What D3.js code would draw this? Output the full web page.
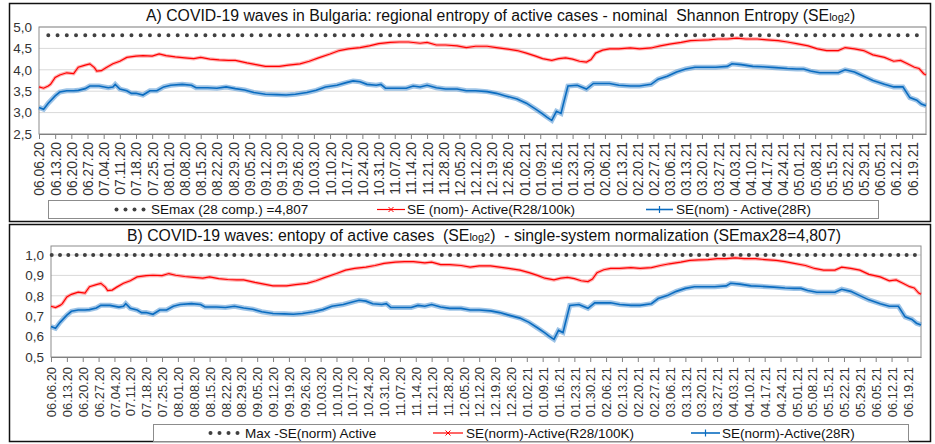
<!DOCTYPE html>
<html>
<head>
<meta charset="utf-8">
<script src="https://cdn.jsdelivr.net/npm/d3@7"></script>
<style>
  body { margin: 0; background: #fff; }
  svg { font-family: "Liberation Sans", Arial, sans-serif; }
  .title { font-size: 15.8px; fill: #111; white-space: pre; }
  .leg { font-size: 13.5px; fill: #111; white-space: pre; }
  .ylab { font-size: 13.5px; fill: #333; }
</style>
</head>
<body>
<svg id="chart" width="935" height="444"></svg>
<script>
// day offset from 06.06.20 -> value (nominal Shannon entropy, log2)
var seMax = 4.807
var lastDay = 384
var tickDays = d3.range(0, 379, 7)

var redA = [[0,3.60],[2,3.57],[4,3.62],[5,3.66],[7,3.82],[9,3.88],[12,3.93],[15,3.91],[17,4.06],[20,4.11],[22,4.14],[24,4.05],[25,3.97],[27,3.98],[29,4.05],[32,4.14],[35,4.20],[38,4.29],[42,4.32],[45,4.33],[49,4.32],[52,4.37],[55,4.33],[59,4.30],[63,4.28],[67,4.26],[70,4.29],[74,4.25],[78,4.23],[82,4.22],[85,4.22],[90,4.16],[94,4.12],[98,4.08],[104,4.08],[108,4.11],[113,4.14],[117,4.20],[121,4.28],[126,4.37],[130,4.45],[134,4.49],[139,4.52],[143,4.56],[147,4.61],[152,4.64],[156,4.65],[160,4.65],[165,4.62],[168,4.64],[172,4.58],[176,4.58],[181,4.56],[185,4.52],[189,4.55],[194,4.55],[198,4.52],[202,4.49],[207,4.45],[211,4.39],[215,4.32],[218,4.26],[222,4.22],[225,4.26],[228,4.28],[231,4.25],[234,4.20],[237,4.18],[239,4.24],[241,4.39],[244,4.46],[247,4.49],[251,4.49],[256,4.51],[260,4.49],[265,4.51],[269,4.56],[273,4.60],[278,4.64],[282,4.68],[286,4.69],[290,4.70],[294,4.72],[298,4.72],[302,4.74],[306,4.72],[311,4.72],[315,4.70],[320,4.68],[324,4.65],[328,4.61],[333,4.56],[337,4.49],[341,4.45],[346,4.45],[349,4.52],[353,4.49],[357,4.45],[361,4.35],[366,4.29],[370,4.20],[373,4.22],[376,4.14],[379,4.06],[381,4.03],[383,3.91],[384,3.88]]

var blueA = [[0,3.12],[2,3.08],[4,3.22],[7,3.39],[9,3.48],[12,3.51],[15,3.51],[17,3.52],[20,3.56],[22,3.62],[26,3.62],[30,3.58],[32,3.60],[33,3.66],[35,3.55],[38,3.51],[40,3.45],[42,3.45],[45,3.41],[48,3.51],[51,3.51],[54,3.60],[57,3.64],[62,3.66],[66,3.64],[68,3.58],[73,3.58],[77,3.57],[81,3.60],[85,3.56],[89,3.53],[93,3.47],[98,3.43],[103,3.42],[107,3.41],[111,3.43],[116,3.47],[120,3.52],[124,3.60],[129,3.64],[133,3.70],[136,3.74],[139,3.72],[142,3.66],[146,3.64],[148,3.66],[150,3.57],[155,3.57],[159,3.57],[162,3.62],[165,3.60],[168,3.64],[172,3.58],[176,3.55],[181,3.55],[185,3.51],[189,3.51],[194,3.49],[198,3.45],[202,3.39],[207,3.32],[211,3.22],[215,3.08],[218,2.97],[220,2.89],[222,2.82],[224,3.03],[226,2.98],[227,3.20],[229,3.62],[233,3.64],[237,3.55],[240,3.68],[243,3.68],[247,3.68],[251,3.64],[256,3.62],[260,3.62],[265,3.66],[268,3.78],[272,3.85],[276,3.95],[280,4.02],[284,4.06],[289,4.06],[293,4.06],[298,4.08],[300,4.14],[304,4.12],[309,4.08],[313,4.07],[319,4.05],[324,4.03],[328,4.02],[331,4.02],[334,3.97],[338,3.93],[343,3.93],[346,3.93],[349,4.00],[353,3.95],[357,3.85],[361,3.75],[366,3.66],[370,3.60],[374,3.60],[377,3.35],[380,3.29],[382,3.20],[384,3.16]]

// panel B = single-system normalization, SE / SEmax28
var redB = redA.map(d => [d[0], d[1] / seMax])
var blueB = blueA.map(d => [d[0], d[1] / seMax])

var yTicksA = [2.5, 3.0, 3.5, 4.0, 4.5, 5.0]
var yTicksB = [0.5, 0.6, 0.7, 0.8, 0.9, 1.0]

var start = new Date(2020, 5, 6)
var dayDate = d => d3.timeDay.offset(start, d)
var fmtDate = d3.timeFormat("%m.%d.%y")
var fmtY = v => d3.format(".1f")(v).replace(".", ",")

var svg = d3.select("#chart")

function drawPanel(p){
	var g = svg.append("g")

	// outer frame
	g.append("rect")
		.attr("x", p.box[0]).attr("y", p.box[1])
		.attr("width", p.box[2]).attr("height", p.box[3])
		.attr("fill", "none").attr("stroke", "#111").attr("stroke-width", 1.5)

	var x = d3.scaleTime().domain([dayDate(0), dayDate(lastDay)]).range([p.left, p.right])
	var y = d3.scaleLinear().domain(p.yDomain).range([p.bottom, p.yTop])

	// gridlines
	g.selectAll(".grid").data(p.yTicks.slice(1)).enter().append("line")
		.attr("x1", p.left).attr("x2", p.right)
		.attr("y1", d => y(d)).attr("y2", d => y(d))
		.attr("stroke", "#d9d9d9")

	// plot frame
	g.append("rect")
		.attr("x", p.left).attr("y", p.frameTop)
		.attr("width", p.right - p.left).attr("height", p.bottom - p.frameTop)
		.attr("fill", "none").attr("stroke", "#8c8c8c")

	// y labels
	g.selectAll(".ylab").data(p.yTicks).enter().append("text")
		.attr("class", "ylab")
		.attr("x", p.left - 7).attr("y", d => y(d)).attr("dy", "0.35em")
		.attr("text-anchor", "end")
		.text(fmtY)

	// x axis
	var xAxis = d3.axisBottom(x)
		.tickValues(tickDays.map(dayDate))
		.tickFormat(fmtDate)
		.tickSize(5).tickSizeOuter(0)
	var ax = g.append("g")
		.attr("transform", "translate(0," + p.bottom + ")")
		.call(xAxis)
	ax.select(".domain").attr("stroke", "#808080")
	ax.selectAll(".tick line").attr("stroke", "#808080")
	ax.selectAll(".tick text")
		.attr("transform", "rotate(-90)")
		.attr("x", -p.labGap).attr("y", 0).attr("dy", "0.36em")
		.style("text-anchor", "end")
		.style("font-family", "'Liberation Sans', Arial, sans-serif")
		.style("font-size", p.xFont + "px")
		.attr("fill", "#333")

	// SEmax dotted line
	g.append("line")
		.attr("x1", p.dotStart).attr("x2", x(dayDate(lastDay)))
		.attr("y1", y(p.maxVal)).attr("y2", y(p.maxVal))
		.attr("stroke", "#404040").attr("stroke-width", 4)
		.attr("stroke-linecap", "round")
		.attr("stroke-dasharray", "0 " + p.dotGap)

	var line = d3.line().x(d => x(dayDate(d[0]))).y(d => y(d[1]))

	// red series with x markers (fuzzy band)
	g.append("path").datum(p.red).attr("d", line)
		.attr("fill", "none").attr("stroke", "#ff7070").attr("stroke-opacity", 0.55).attr("stroke-width", 3.5)
	g.append("path").datum(p.red).attr("d", line)
		.attr("fill", "none").attr("stroke", "#ff0000").attr("stroke-width", 1.2)

	// blue series with + markers
	g.append("path").datum(p.blue).attr("d", line)
		.attr("fill", "none").attr("stroke", "#5b9bd5").attr("stroke-opacity", 0.6).attr("stroke-width", 5)
	g.append("path").datum(p.blue).attr("d", line)
		.attr("fill", "none").attr("stroke", "#0a6cc0").attr("stroke-width", 1.6)

	// title
	var t = g.append("text").attr("class", "title")
		.attr("x", p.titleX).attr("y", p.titleY)
	t.append("tspan").text(p.title[0])
	t.append("tspan").attr("font-size", "11px").text("log2")
	t.append("tspan").text(p.title[1])

	// legend
	var L = p.legend
	g.append("rect")
		.attr("x", L.box[0]).attr("y", L.box[1]).attr("width", L.box[2]).attr("height", L.box[3])
		.attr("fill", "#fff").attr("stroke", "#8c8c8c")
	var ly = L.box[1] + L.box[3] / 2
	g.selectAll(".ldot").data(d3.range(4)).enter().append("circle")
		.attr("cx", d => L.dots + d * 9).attr("cy", ly).attr("r", 2)
		.attr("fill", "#404040")
	g.append("line").attr("x1", L.red[0]).attr("x2", L.red[1]).attr("y1", ly).attr("y2", ly)
		.attr("stroke", "#ff0000").attr("stroke-width", 1.2)
	var rc = (L.red[0] + L.red[1]) / 2
	g.append("path").attr("d", "M" + (rc - 2.5) + "," + (ly - 2.5) + "l5,5M" + (rc - 2.5) + "," + (ly + 2.5) + "l5,-5")
		.attr("stroke", "#ff0000").attr("stroke-width", 1)
	g.append("line").attr("x1", L.blue[0]).attr("x2", L.blue[1]).attr("y1", ly).attr("y2", ly)
		.attr("stroke", "#0a6cc0").attr("stroke-width", 1.6)
	var bc = (L.blue[0] + L.blue[1]) / 2
	g.append("path").attr("d", "M" + bc + "," + (ly - 3.5) + "v7")
		.attr("stroke", "#0a6cc0").attr("stroke-width", 1.2)
	L.texts.forEach(function(s, i){
		g.append("text").attr("class", "leg")
			.attr("x", L.textX[i]).attr("y", ly).attr("dy", "0.36em")
			.text(s)
	})
}

drawPanel({
	box: [9.5, 3.5, 921, 218],
	left: 39, right: 926, yTop: 27, frameTop: 27, bottom: 134,
	yDomain: [2.5, 5.0], yTicks: yTicksA, maxVal: seMax,
	labGap: 8, xFont: 13.8,
	dotStart: 48.3, dotGap: 9.24,
	red: redA, blue: blueA,
	titleX: 146, titleY: 21,
	title: ["A) COVID-19 waves in Bulgaria: regional entropy of active cases - nominal  Shannon Entropy (SE", ")"],
	legend: {
		box: [48.5, 200.5, 830, 18],
		dots: 116.5, red: [377, 405], blue: [646, 673],
		texts: ["SEmax (28 comp.) =4,807", "SE (nom)- Active(R28/100k)", "SE(nom) - Active(28R)"],
		textX: [151, 407, 676]
	}
})

drawPanel({
	box: [9.5, 224.5, 921, 217],
	left: 51, right: 921, yTop: 255, frameTop: 246, bottom: 357,
	yDomain: [0.5, 1.0], yTicks: yTicksB, maxVal: 1.0,
	labGap: 10, xFont: 12.9,
	dotStart: 51.7, dotGap: 8.3,
	red: redB, blue: blueB,
	titleX: 127, titleY: 241,
	title: ["B) COVID-19 waves: entopy of active cases  (SE", ")  - single-system normalization (SEmax28=4,807)"],
	legend: {
		box: [153.5, 424.5, 755, 17],
		dots: 210.5, red: [433, 463], blue: [691, 720],
		texts: ["Max -SE(norm) Active", "SE(norm)-Active(R28/100K)", "SE(norm)-Active(28R)"],
		textX: [245, 466, 722]
	}
})
</script>
</body>
</html>
